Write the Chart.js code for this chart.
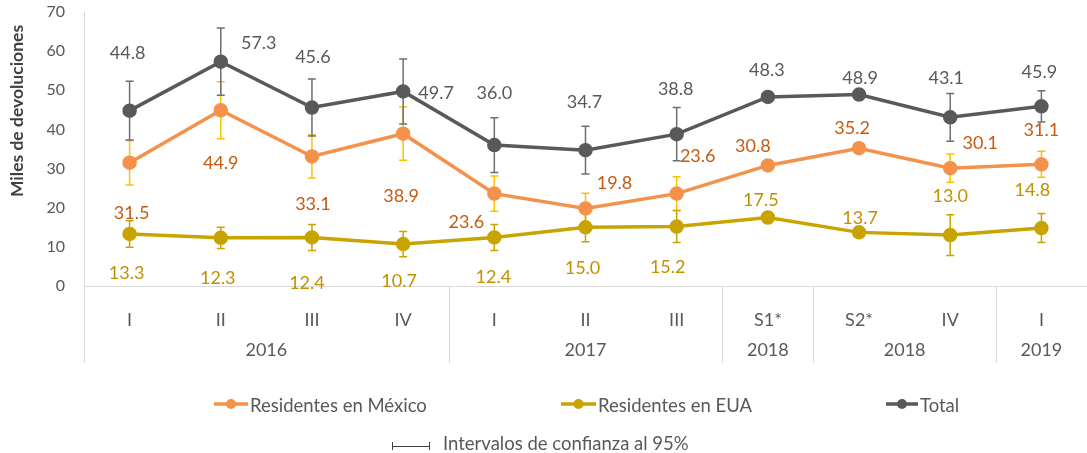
<!DOCTYPE html>
<html>
<head>
<meta charset="utf-8">
<script src="https://cdn.jsdelivr.net/npm/chart.js@4.4.0/dist/chart.umd.min.js"></script>
<style>
    html, body { margin: 0; padding: 0; background: #fff; overflow: hidden; }
    #wrap { width: 1096px; height: 453px; }
</style>
</head>
<body>
<div id="wrap"><canvas id="chart" width="1096" height="453"></canvas></div>
<script>
// =======================================================
// DATA
// =======================================================
const quarters = ["I", "II", "III", "IV", "I", "II", "III", "S1*", "S2*", "IV", "I"];
const years = ["2016", "2017", "2018", "2018", "2019"];
const yearSpans = [4, 3, 1, 2, 1];

const mexico = [31.5, 44.9, 33.1, 38.9, 23.6, 19.8, 23.6, 30.8, 35.2, 30.1, 31.1];
const eua = [13.3, 12.3, 12.4, 10.7, 12.4, 15.0, 15.2, 17.5, 13.7, 13.0, 14.8];
const total = [44.8, 57.3, 45.6, 49.7, 36.0, 34.7, 38.8, 48.3, 48.9, 43.1, 45.9];

// half width of the 95% confidence interval (null = not shown)
const mexicoErr = [5.7, 7.3, 5.5, 6.8, 4.5, 3.9, 4.3, null, null, 3.6, 3.3];
const euaErr = [3.4, 2.7, 3.3, 3.2, 3.3, 3.7, 4.1, null, null, 5.2, 3.7];
const totalErr = [7.5, 8.6, 7.3, 8.3, 7.0, 6.1, 6.8, null, null, 6.1, 4.0];

const yTicks = [0, 10, 20, 30, 40, 50, 60, 70];

// label placement (pixel offset from the point)
const mexicoLabelPos = [[2, 50], [0, 53], [1, 48], [-2, 62], [-28, 29], [29, -25], [21, -37], [-15, -19], [-7, -20], [30, -25], [0, -34]];
const euaLabelPos = [[-3, 39], [-3, 40], [-5, 46], [-4, 37], [-1, 40], [-3, 41], [-9, 41], [-7, -17], [1, -14], [0, -39], [-9, -38]];
const totalLabelPos = [[-2, -57], [38, -19], [1, -50], [33, 2], [0, -52], [-1, -48], [-1, -45], [-1, -27], [1, -16], [-4, -39], [-2, -34]];

const FONT = "Lato, 'Open Sans', sans-serif";
const TEXT = "#595959";
const AXIS = "#D9D9D9";


// =======================================================
// PLUGINS
// =======================================================
const errorBars = {
    id: "errorBars",
    beforeDatasetsDraw(chart) {
        const ctx = chart.ctx;
        const y = chart.scales.y;
        chart.data.datasets.forEach((ds, i) => {
            const meta = chart.getDatasetMeta(i);
            ctx.save();
            ctx.strokeStyle = ds.errColor;
            ctx.lineWidth = 1.5;
            meta.data.forEach((pt, j) => {
                const e = ds.err[j];
                if (e == null) return;
                const top = y.getPixelForValue(ds.data[j] + e);
                const bot = y.getPixelForValue(ds.data[j] - e);
                ctx.beginPath();
                ctx.moveTo(pt.x, top); ctx.lineTo(pt.x, bot);
                ctx.moveTo(pt.x - 4, top); ctx.lineTo(pt.x + 4, top);
                ctx.moveTo(pt.x - 4, bot); ctx.lineTo(pt.x + 4, bot);
                ctx.stroke();
            });
            ctx.restore();
        });
    }
};

const dataLabels = {
    id: "dataLabels",
    afterDatasetsDraw(chart) {
        const ctx = chart.ctx;
        ctx.save();
        ctx.font = "18px " + FONT;
        ctx.textAlign = "center";
        ctx.textBaseline = "middle";
        chart.data.datasets.forEach((ds, i) => {
            const meta = chart.getDatasetMeta(i);
            ctx.fillStyle = ds.labelColor;
            meta.data.forEach((pt, j) => {
                const off = ds.labelPos[j];
                ctx.fillText(ds.data[j].toFixed(1), pt.x + off[0], pt.y + off[1]);
            });
        });
        ctx.restore();
    }
};

const frame = {
    id: "frame",
    afterDraw(chart) {
        const ctx = chart.ctx;
        const x = chart.scales.x;
        const area = chart.chartArea;
        const half = (x.getPixelForValue(1) - x.getPixelForValue(0)) / 2;

        // year group separators and labels
        ctx.save();
        ctx.strokeStyle = AXIS;
        ctx.lineWidth = 1;
        ctx.fillStyle = TEXT;
        ctx.font = "18px " + FONT;
        ctx.textAlign = "center";
        ctx.textBaseline = "middle";
        let start = 0;
        const sepBottom = area.bottom + 77;
        const edges = [x.getPixelForValue(0) - half];
        yearSpans.forEach((span, k) => {
            const end = start + span - 1;
            edges.push(x.getPixelForValue(end) + half);
            const mid = (x.getPixelForValue(start) + x.getPixelForValue(end)) / 2;
            ctx.fillText(years[k], mid, area.bottom + 64);
            start += span;
        });
        edges.forEach(px => {
            const xx = Math.round(px) + 0.5;
            ctx.beginPath();
            ctx.moveTo(xx, area.bottom);
            ctx.lineTo(xx, sepBottom);
            ctx.stroke();
        });

        // y axis title
        ctx.save();
        ctx.translate(17, 111);
        ctx.rotate(-Math.PI / 2);
        ctx.font = "bold 17.5px " + FONT;
        ctx.fillStyle = "#404040";
        ctx.fillText("Miles de devoluciones", 0, 0);
        ctx.restore();

        // legend
        const legendX = [[214, 248, 250], [561, 596, 598], [886, 918, 920]];
        ctx.textAlign = "left";
        ctx.font = "18.5px " + FONT;
        chart.data.datasets.forEach((ds, k) => {
            const [x0, x1, tx] = legendX[k];
            const ly = 404;
            ctx.strokeStyle = ds.borderColor;
            ctx.lineWidth = 3.5;
            ctx.beginPath();
            ctx.moveTo(x0, ly); ctx.lineTo(x1, ly);
            ctx.stroke();
            ctx.fillStyle = ds.borderColor;
            ctx.beginPath();
            ctx.arc((x0 + x1) / 2, ly, 5, 0, Math.PI * 2);
            ctx.fill();
            ctx.fillStyle = TEXT;
            ctx.fillText(ds.label, tx, 406);
        });

        // confidence interval key
        ctx.strokeStyle = "#404040";
        ctx.lineWidth = 1;
        ctx.beginPath();
        ctx.moveTo(392.5, 442); ctx.lineTo(392.5, 450);
        ctx.moveTo(429.5, 442); ctx.lineTo(429.5, 450);
        ctx.moveTo(392.5, 446.5); ctx.lineTo(429.5, 446.5);
        ctx.stroke();
        ctx.fillStyle = TEXT;
        ctx.fillText("Intervalos de confianza al 95%", 443, 444);
        ctx.restore();
    }
};


// =======================================================
// CHART
// =======================================================
function series(label, data, err, color, errColor, labelColor, labelPos) {
    return {
        label: label,
        data: data,
        err: err,
        errColor: errColor,
        labelColor: labelColor,
        labelPos: labelPos,
        borderColor: color,
        backgroundColor: color,
        pointBackgroundColor: color,
        pointBorderColor: color,
        borderWidth: 3.5,
        pointRadius: 5.5,
        tension: 0
    };
}

new Chart(document.getElementById("chart").getContext("2d"), {
    type: "line",
    data: {
        labels: quarters,
        datasets: [
            series("Residentes en México", mexico, mexicoErr, "#F4914A", "#FFC000", "#C55A11", mexicoLabelPos),
            series("Residentes en EUA", eua, euaErr, "#C9A300", "#C9A300", "#BF9000", euaLabelPos),
            series("Total", total, totalErr, "#595959", "#6E6E6E", "#595959", totalLabelPos)
        ]
    },
    options: {
        responsive: false,
        animation: false,
        events: [],
        layout: { padding: { top: 12, left: 0, right: 1, bottom: 87 } },
        plugins: {
            legend: { display: false },
            tooltip: { enabled: false }
        },
        scales: {
            x: {
                offset: true,
                grid: { display: false },
                border: { display: true, color: AXIS, width: 1 },
                ticks: { color: TEXT, font: { family: FONT, size: 18 }, padding: 15, maxRotation: 0, autoSkip: false },
                afterFit: s => { s.height = 80; s.paddingLeft = 0; s.paddingRight = 0; }
            },
            y: {
                min: 0,
                max: 70,
                grid: { display: false, drawTicks: false },
                border: { display: true, color: AXIS, width: 1 },
                ticks: { color: TEXT, font: { family: FONT, size: 16 }, padding: 19 },
                afterBuildTicks: s => { s.ticks = yTicks.map(v => ({ value: v })); },
                afterFit: s => { s.width = 84; s.paddingTop = 0; s.paddingBottom = 0; }
            }
        }
    },
    plugins: [errorBars, dataLabels, frame]
});
</script>
</body>
</html>
